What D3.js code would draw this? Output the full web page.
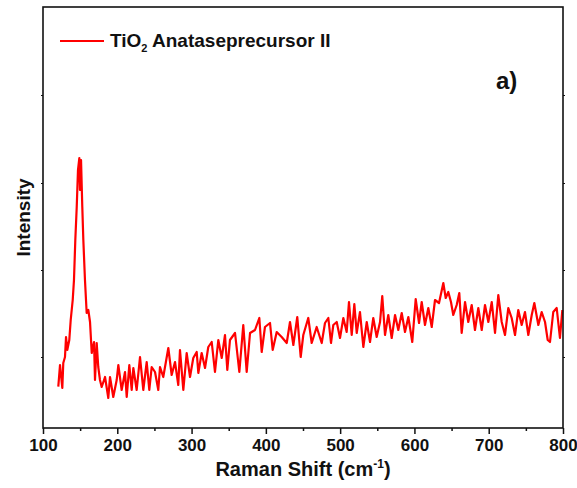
<!DOCTYPE html>
<html>
<head>
<meta charset="utf-8">
<script src="https://cdn.jsdelivr.net/npm/d3@7"></script>
<style>
  body { margin: 0; background: #fff; }
  svg text { font-family: "Liberation Sans", Arial, sans-serif; font-weight: bold; fill: #111; }
</style>
</head>
<body>
<svg id="chart" width="577" height="488"></svg>
<script>
// Raman spectrum (arbitrary intensity units)
const ramanShift = [120.6,122.9,126.0,127.3,129.6,131.0,132.7,135.4,137.3,140.0,141.7,143.5,145.4,147.1,148.9,149.8,151.2,152.9,154.3,156.5,158.8,161.0,163.3,165.6,168.7,170.0,172.3,174.4,176.7,179.0,183.5,187.9,190.2,194.6,199.2,201.4,205.9,210.4,212.7,216.2,219.4,221.6,226.1,230.6,235.0,239.6,243.1,246.3,250.8,255.2,257.5,261.9,268.7,273.2,277.7,282.1,284.4,288.9,293.4,297.9,302.3,306.9,309.1,313.6,318.1,322.5,327.1,331.5,336.0,340.6,345.0,348.1,351.7,358.5,364.3,369.6,374.2,378.7,385.4,391.2,394.4,398.8,405.6,409.2,414.6,421.3,428.1,432.5,437.0,442.3,446.9,450.4,457.1,461.7,468.4,475.2,479.6,484.1,487.7,490.8,495.4,499.8,504.3,508.8,511.9,515.6,519.1,522.3,526.7,531.2,535.8,540.2,544.6,549.2,553.7,556.7,560.4,564.8,569.4,573.9,578.3,582.9,587.3,591.8,597.1,601.7,606.2,609.8,614.2,618.7,623.3,627.7,633.1,638.9,642.1,645.6,649.2,652.3,656.9,660.4,663.6,668.1,672.5,677.1,681.5,686.0,690.6,695.0,699.5,704.1,708.5,712.9,717.5,721.9,726.4,730.9,735.4,739.8,744.4,748.8,753.3,757.9,761.4,766.8,771.3,775.8,779.4,782.5,786.9,791.5,795.9,799.1];
const intensity = [413,630,400,650,710,910,780,880,1080,1280,1480,1880,2210,2580,2700,2380,2680,2210,1880,1480,1150,1180,1060,750,860,480,850,610,480,410,510,300,510,310,480,630,380,560,310,630,380,600,380,710,380,660,380,610,560,380,610,510,800,530,660,430,780,380,750,510,700,760,550,750,600,810,860,560,880,700,930,580,880,950,560,1030,560,950,980,1100,760,1010,1050,780,960,910,850,1060,830,1110,710,930,1100,850,1010,850,1050,1100,850,1030,1060,900,1100,960,1260,930,1240,950,1160,810,1060,860,1100,910,1060,1320,930,1130,900,1130,980,1150,960,1110,860,1290,1050,1260,1030,1200,1010,1280,1250,1450,1300,1360,1260,1130,1230,1350,950,1260,1060,1230,980,1200,980,1230,1060,1260,950,1330,1060,930,1200,1100,930,1180,1030,1160,930,1130,1250,1030,1160,1060,880,860,1160,1200,900,1180];

const xTicks = [100, 200, 300, 400, 500, 600, 700, 800];
const xMinorTicks = [150, 250, 350, 450, 550, 650, 750];
const yTicks = [710, 1580, 2450, 3330];
const seriesName = "Anataseprecursor II";

const svg = d3.select("#chart");
const margin = { left: 43, right: 14, top: 7, bottom: 60 };
const W = 577, H = 488;

const x = d3.scaleLinear().domain([100, 800]).range([margin.left, W - margin.right]);
const y = d3.scaleLinear().domain([0, 4210]).range([H - margin.bottom, margin.top]);

const data = ramanShift.map((s, i) => ({ s, v: intensity[i] }));

// spectrum line
svg.append("path")
  .datum(data)
  .attr("fill", "none")
  .attr("stroke", "#ff0000")
  .attr("stroke-width", 2.2)
  .attr("stroke-linejoin", "round")
  .attr("d", d3.line().x(d => x(d.s)).y(d => y(d.v)));

// bottom axis
const bottom = svg.append("g").attr("transform", `translate(0,${y(0)})`);
bottom.call(d3.axisBottom(x).tickValues(xTicks).tickSize(6).tickPadding(5).tickFormat(d3.format("d")));
bottom.append("g").call(d3.axisBottom(x).tickValues(xMinorTicks).tickSize(3).tickFormat(""));
bottom.selectAll(".domain").remove();
bottom.selectAll("line").attr("stroke", "#111").attr("stroke-width", 1.5);
bottom.selectAll("text").attr("font-size", 17).attr("font-family", "Liberation Sans, Arial, sans-serif").attr("font-weight", "bold").attr("fill", "#111");

// left / right ticks (no labels)
const left = svg.append("g").attr("transform", `translate(${x(100)},0)`)
  .call(d3.axisLeft(y).tickValues(yTicks).tickSize(2).tickFormat(""));
const right = svg.append("g").attr("transform", `translate(${x(800)},0)`)
  .call(d3.axisRight(y).tickValues(yTicks).tickSize(2).tickFormat(""));
left.selectAll(".domain").remove();
right.selectAll(".domain").remove();
svg.selectAll("g line").attr("stroke", "#111");

// frame
svg.append("rect")
  .attr("x", x(100)).attr("y", y(4210))
  .attr("width", x(800) - x(100)).attr("height", y(0) - y(4210))
  .attr("fill", "none").attr("stroke", "#111").attr("stroke-width", 1.6);

// axis titles
svg.append("text")
  .attr("x", (x(100) + x(800)) / 2).attr("y", 476)
  .attr("text-anchor", "middle").attr("font-size", 20)
  .call(t => {
    t.append("tspan").text("Raman Shift (cm");
    t.append("tspan").attr("dy", -8).attr("font-size", 12).text("-1");
    t.append("tspan").attr("dy", 8).text(")");
  });

svg.append("text")
  .attr("transform", `translate(30,${(y(0) + y(4210)) / 2}) rotate(-90)`)
  .attr("text-anchor", "middle").attr("font-size", 19)
  .text("Intensity");

// legend
svg.append("line")
  .attr("x1", 60).attr("x2", 104).attr("y1", 41).attr("y2", 41)
  .attr("stroke", "#ff0000").attr("stroke-width", 2);
svg.append("text")
  .attr("x", 110).attr("y", 47).attr("font-size", 19)
  .call(t => {
    t.append("tspan").text("TiO");
    t.append("tspan").attr("dy", 5).attr("font-size", 11).text("2");
    t.append("tspan").attr("dy", -5).text(" " + seriesName);
  });

svg.append("text")
  .attr("x", 496).attr("y", 89).attr("font-size", 24)
  .attr("font-family", "Open Sans, sans-serif")
  .text("a)");
</script>
</body>
</html>
